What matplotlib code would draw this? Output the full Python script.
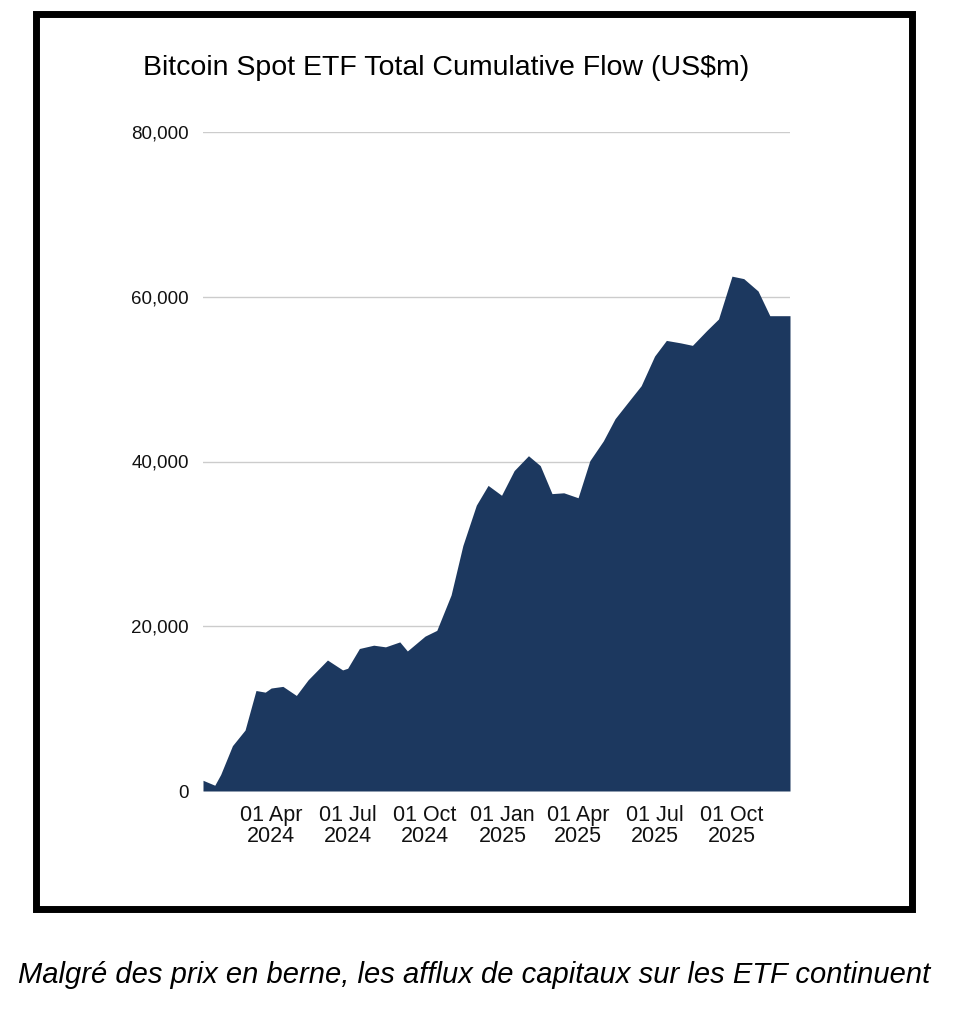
import matplotlib
matplotlib.use("Agg")
import matplotlib.pyplot as plt
from matplotlib.patches import Rectangle
import pandas as pd

NAVY = "#1c385f"

dates = pd.to_datetime([
    "2024-01-11", "2024-01-25", "2024-02-01", "2024-02-15", "2024-03-01", "2024-03-14",
    "2024-03-25", "2024-04-01", "2024-04-15", "2024-05-01", "2024-05-15", "2024-06-07",
    "2024-06-25", "2024-07-01", "2024-07-15", "2024-08-01", "2024-08-15", "2024-09-01",
    "2024-09-10", "2024-10-01", "2024-10-15", "2024-11-01", "2024-11-15", "2024-12-01",
    "2024-12-15", "2024-12-31", "2025-01-15", "2025-02-01", "2025-02-15", "2025-03-01",
    "2025-03-15", "2025-04-01", "2025-04-15", "2025-05-01", "2025-05-15", "2025-06-01",
    "2025-06-15", "2025-07-01", "2025-07-15", "2025-08-01", "2025-08-15", "2025-09-01",
    "2025-09-15", "2025-10-01", "2025-10-15", "2025-11-01", "2025-11-15", "2025-12-09",
])
flows = [
    1.3, 0.7, 2.0, 5.5, 7.4, 12.2,
    12.0, 12.5, 12.7, 11.6, 13.5, 15.9,
    14.7, 14.9, 17.3, 17.7, 17.5, 18.1,
    17.0, 18.8, 19.5, 23.8, 29.8, 34.7,
    37.1, 35.9, 38.9, 40.7, 39.5, 36.1,
    36.2, 35.6, 40.1, 42.5, 45.2, 47.4,
    49.2, 52.8, 54.7, 54.4, 54.1, 55.9,
    57.3, 62.5, 62.2, 60.7, 57.7, 57.7,
]
flows = [v * 1000 for v in flows]

tick_dates = pd.to_datetime(["2024-04-01", "2024-07-01", "2024-10-01", "2025-01-01",
                             "2025-04-01", "2025-07-01", "2025-10-01"])
tick_labels = ["01 Apr\n2024", "01 Jul\n2024", "01 Oct\n2024", "01 Jan\n2025",
               "01 Apr\n2025", "01 Jul\n2025", "01 Oct\n2025"]

plt.rcParams["font.family"] = ["Liberation Sans", "DejaVu Sans"]
fig = plt.figure(figsize=(9.55, 10.24), dpi=100, facecolor="white")

# black frame
fig.patches.append(Rectangle((36 / 955, 1 - 909 / 1024), 876 / 955, 895 / 1024,
                             transform=fig.transFigure, fill=False,
                             edgecolor="black", lw=5))

ax = fig.add_axes([203 / 955, 1 - 791 / 1024, 587 / 955, 659 / 1024])
ax.fill_between(dates, 0, flows, color=NAVY, lw=0, zorder=2)
ax.set_xlim(dates[0], dates[-1])
ax.set_ylim(0, 80000)
ax.set_yticks([0, 20000, 40000, 60000, 80000])
ax.yaxis.set_major_formatter(plt.FuncFormatter(lambda v, _: f"{int(v):,}"))
ax.set_xticks(tick_dates)
ax.set_xticklabels(tick_labels, linespacing=1.0)
ax.tick_params(length=0, colors="#111111")
ax.tick_params(axis="y", labelsize=13.5, pad=10)
ax.tick_params(axis="x", labelsize=15.5, pad=10)
ax.grid(axis="y", color="#cccccc", lw=1, zorder=0)
for s in ax.spines.values():
    s.set_visible(False)

fig.text(446 / 955, 1 - 68 / 1024, "Bitcoin Spot ETF Total Cumulative Flow (US$m)",
         ha="center", va="center", fontsize=20.5)
fig.text(474 / 955, 1 - 975 / 1024,
         "Malgré des prix en berne, les afflux de capitaux sur les ETF continuent",
         ha="center", va="center", fontsize=21, style="italic")

fig.savefig("out.png", dpi=100, facecolor="white")
